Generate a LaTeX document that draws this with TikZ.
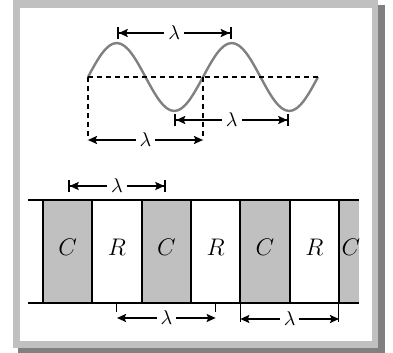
\documentclass[tikz,border=0pt]{standalone}
\usepackage{amsmath,amssymb}
\usepackage{tikz}
\usetikzlibrary{calc,arrows.meta}
\definecolor{framegray}{RGB}{192,192,192}
\definecolor{shadowgray}{RGB}{128,128,128}
\definecolor{wavegray}{RGB}{128,128,128}
\tikzset{
  lam/.style={fill=white, inner sep=2pt, font=\normalsize},
  cell/.style={font=\large},
  barspan/.style={arrows={Bar[width=6pt]Stealth[length=4.5pt,width=4pt,inset=0.8pt]}-{Stealth[length=4.5pt,width=4pt,inset=0.8pt]Bar[width=6pt]}},
  dimspan/.style={arrows={Stealth[length=4.5pt,width=4pt,inset=0.8pt]}-{Stealth[length=4.5pt,width=4pt,inset=0.8pt]}},
  dashline/.style={dash pattern=on 2.5pt off 2pt},
  tick/.style={line width=0.5pt}
}
\begin{document}
\begin{tikzpicture}[x=0.5pt, y=-0.5pt, line width=1pt, line join=round]
    \useasboundingbox (0,0) rectangle (393,353);
    % frame
    \fill[shadowgray] (18,5) rectangle (385,353);
    \fill[framegray] (13,0) rectangle (378,348);
    \fill[white] (20,8) rectangle (372,341);
    % wave
    \coordinate (O1) at (88,77);
    \coordinate (P1) at (116.75,43);
    \coordinate (Z1) at (145.5,77);
    \coordinate (T1) at (174.25,111);
    \coordinate (O2) at (203,77);
    \coordinate (P2) at (231.75,43);
    \coordinate (Z2) at (260.5,77);
    \coordinate (T2) at (289.25,111);
    \coordinate (O3) at (318,77);
    \draw[wavegray, line width=1.2pt] (O1) sin (P1) cos (Z1) sin (T1) cos (O2)
        sin (P2) cos (Z2) sin (T2) cos (O3);
    \coordinate (D1) at (88,140);
    \coordinate (D2) at (203,140);
    \draw[dashline] (O1) -- (O3);
    \draw[dashline] (O1) -- (D1);
    \draw[dashline] (O2) -- (D2);
    \coordinate (A1) at ($(P1)+(0,-10)$);
    \coordinate (A2) at ($(P2)+(0,-10)$);
    \coordinate (B1) at ($(T1)+(0,9)$);
    \coordinate (B2) at ($(T2)+(0,9)$);
    \draw[barspan] (A1) -- node[lam] (l1) {$\lambda$} (A2);
    \draw[barspan] (B1) -- node[lam] (l2) {$\lambda$} (B2);
    \draw[dimspan] (D1) -- node[lam] (l3) {$\lambda$} (D2);
    % line of cells
    \coordinate (L1) at (28,200);
    \coordinate (R1) at (359,200);
    \coordinate (L2) at (28,303);
    \coordinate (R2) at (359,303);
    \foreach \i in {0,2,4}
        \fill[framegray] (43+49.33*\i,200) rectangle ++(49.33,103);
    \fill[framegray] (339,200) rectangle (359,303);
    \foreach \i in {0,...,6} {
        \coordinate (c\i) at (43+49.33*\i,200);
        \draw (c\i) -- ++(0,103);
    }
    \draw (L1) -- (R1);
    \draw (L2) -- (R2);
    \foreach \i/\t in {0/C,1/R,2/C,3/R,4/C,5/R}
        \node[cell] (n\i) at (67.67+49.33*\i,247) {$\t$};
    \node[cell] (n6) at (351,247) {$C$};
    \coordinate (E1) at (67.67,186);
    \coordinate (E2) at (166.33,186);
    \draw[barspan] (E1) -- node[lam] (l4) {$\lambda$} (E2);
    \coordinate (F1) at (117,318);
    \coordinate (F2) at (215.67,318);
    \draw[tick] (F1 |- L2) -- ++(0,9);
    \draw[tick] (F2 |- L2) -- ++(0,9);
    \draw[dimspan] (F1) -- node[lam] (l5) {$\lambda$} (F2);
    \coordinate (G1) at (240.33,319);
    \coordinate (G2) at (339,319);
    \draw[tick] (G1 |- L2) -- ++(0,19);
    \draw[tick] (G2 |- L2) -- ++(0,19);
    \draw[dimspan] (G1) -- node[lam] (l6) {$\lambda$} (G2);
\end{tikzpicture}
\end{document}
